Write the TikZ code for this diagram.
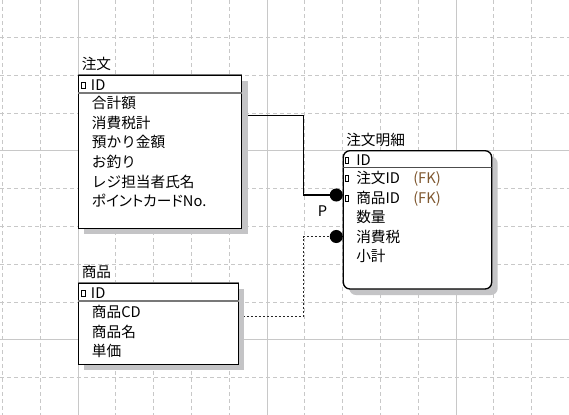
\documentclass[tikz,border=0pt]{standalone}
\usepackage{fontspec}
\setmainfont{Noto Sans CJK JP}
\newfontfamily\paltfont[RawFeature=+palt]{Noto Sans CJK JP}
\usetikzlibrary{fit,calc,shadows}
\definecolor{gridc}{RGB}{200,200,200}
\definecolor{shadowc}{RGB}{196,196,198}
\definecolor{fkc}{RGB}{128,88,48}
\definecolor{sepc}{RGB}{120,120,120}
\pgfdeclarelayer{gridlayer}
\pgfdeclarelayer{conn}
\pgfsetlayers{gridlayer,conn,main}
\tikzset{
 gridd/.style={gridc, line width=0.75pt, dash pattern=on 3pt off 2.25pt},
 grids/.style={gridc, line width=0.75pt},
 tbl/.style={draw=black, fill=white, line width=1pt, inner sep=0pt,
   drop shadow={shadow xshift=4.5pt, shadow yshift=-4.5pt, fill=shadowc, opacity=1}},
 tblr/.style={tbl, rounded corners=5pt},
 txt/.style={anchor=west, inner sep=0pt, font=\fontsize{11pt}{13pt}\selectfont, text height=0.88em, text depth=0.12em},
 fk/.style={txt, text=fkc},
 keymark/.style={draw=black, line width=0.6pt, fill=white, minimum width=2.4pt, minimum height=4.6pt, inner sep=0pt},
 topedge/.style={sepc, line width=1.1pt},
 sepline/.style={sepc, line width=1.5pt},
 septhin/.style={black!70, line width=0.9pt},
 rel/.style={black, line width=0.8pt},
 relopt/.style={black!85, line width=0.9pt, dash pattern=on 1.5pt off 1.5pt},
 dot/.style={circle, fill=black, minimum size=9.8pt, inner sep=0pt},
 lbl/.style={inner sep=0pt, font=\fontsize{11pt}{13pt}\selectfont},
}
\begin{document}
\begin{tikzpicture}[x=0.75pt, y=-0.75pt]
\useasboundingbox (0,0) rectangle (569,415);
% grid
\begin{pgfonlayer}{gridlayer}
\fill[white] (0,0) rectangle (569,415);
\foreach \i in {-2,...,13} {
  \pgfmathsetmacro\xx{78+37.8*\i}
  \draw[gridd] (\xx,0) -- (\xx,415);
}
\foreach \j in {-3,...,7} {
  \pgfmathsetmacro\yy{150.8+37.8*\j}
  \draw[gridd] (0,\yy) -- (569,\yy);
}
\foreach \xx in {78,267,456} { \draw[grids] (\xx,0) -- (\xx,415); }
\foreach \yy in {150.8,339.8} { \draw[grids] (0,\yy) -- (569,\yy); }
\end{pgfonlayer}

% tables
\node[tbl, fit={(78.3,75) (241.7,228.3)}] (order) {};
\draw[topedge] (order.north west) -- (order.north east);
\draw[sepline] ($(order.north west)+(0,18.3)$) -- ($(order.north east)+(0,18.3)$);

\node[tbl, fit={(78.3,283.3) (238.3,364.3)}] (item) {};
\draw[topedge] (item.north west) -- (item.north east);
\draw[sepline] ($(item.north west)+(0,18.4)$) -- ($(item.north east)+(0,18.4)$);

\node[tblr, fit={(343.3,150.7) (491.7,289)}] (detail) {};
\draw[septhin] ($(detail.north west)+(0,17.6)$) -- ($(detail.north east)+(0,17.6)$);

% titles
\node[txt] (t-order) at (81.5,64) {注文};
\node[txt] (t-item) at (81.5,272.5) {商品};
\node[txt] (t-detail) at (346,140) {注文明細};

% order rows
\node[keymark] (k-o) at (83.3,85) {};
\node[txt] (o-id) at (90.7,85) {ID};
\node[txt] (o-1) at (91.7,103.3) {合計額};
\node[txt] (o-2) at (91.7,123) {消費税計};
\node[txt] (o-3) at (91.7,142.7) {預かり金額};
\node[txt] (o-4) at (91.7,162.3) {お釣り};
\node[txt] (o-5) at (91.7,182) {レジ担当者氏名};
\node[txt] (o-6) at (91.7,201.7) {\paltfont ポイントカードNo.};

% item rows
\node[keymark] (k-i) at (83.3,293.3) {};
\node[txt] (i-id) at (90.7,293.3) {ID};
\node[txt] (i-1) at (91.7,312.5) {商品CD};
\node[txt] (i-2) at (91.7,332.2) {商品名};
\node[txt] (i-3) at (91.7,351.8) {単価};

% detail rows
\node[keymark] (k-d0) at (346.5,160) {};
\node[keymark] (k-d1) at (346.5,178.8) {};
\node[keymark] (k-d2) at (346.5,198.3) {};
\node[txt] (d-id) at (356,160) {ID};
\node[txt] (d-1) at (356,178.6) {注文ID};
\node[fk] (fk-1) at (413,178.6) {(FK)};
\node[txt] (d-2) at (356,198.3) {商品ID};
\node[fk] (fk-2) at (413,198.3) {(FK)};
\node[txt] (d-3) at (356,217.8) {数量};
\node[txt] (d-4) at (356,237.2) {消費税};
\node[txt] (d-5) at (356,256.7) {小計};

% relationship ends
\node[dot] (dot1) at (336.3,195) {};
\node[dot] (dot2) at (336.3,236.5) {};
\node[lbl] (p) at (322.5,210.8) {P};

\begin{pgfonlayer}{conn}
\draw[rel] ($(order.north east)+(0,41)$) -| ($(dot1)+(-33,0)$) -- (dot1);
\draw[relopt] ($(item.north east)+(0,34)$) -| ($(dot2)+(-33,0)$) -- (dot2);
\end{pgfonlayer}
\end{tikzpicture}
\end{document}
